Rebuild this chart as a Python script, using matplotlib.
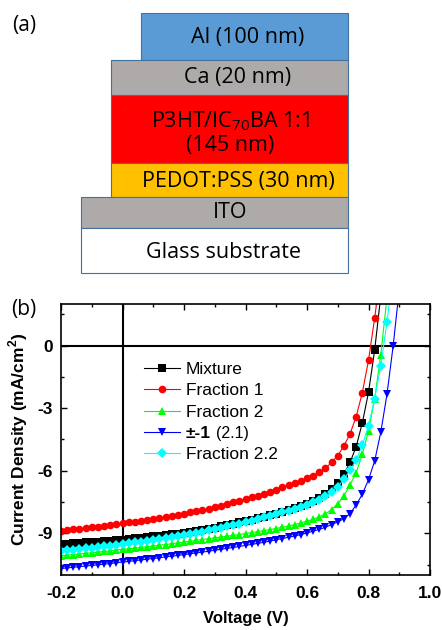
import numpy as np
import matplotlib.pyplot as plt
from matplotlib.patches import Rectangle
from matplotlib.ticker import MultipleLocator

plt.rcParams['mathtext.fontset'] = 'custom'
plt.rcParams['mathtext.rm'] = 'Open Sans'
plt.rcParams['mathtext.bf'] = 'Liberation Sans:bold'

# device stack (top to bottom)
layer_labels = ["Al (100 nm)", "Ca (20 nm)", "P3HT/IC$_{70}$BA 1:1\n(145 nm)",
                "PEDOT:PSS (30 nm)", "ITO", "Glass substrate"]
layer_colors = ["#5B9BD5", "#AEAAAA", "#FF0000", "#FFC000", "#AEAAAA", "#FFFFFF"]

# J-V curves, voltage in V, current density in mA/cm2
voltage = np.round(np.arange(-0.20, 0.905, 0.02), 2)

j_mixture = [-9.52, -9.50, -9.48, -9.46, -9.44, -9.42, -9.40, -9.37, -9.35, -9.32,
             -9.30, -9.27, -9.24, -9.21, -9.18, -9.15, -9.12, -9.08, -9.05, -9.01,
             -8.97, -8.93, -8.88, -8.83, -8.78, -8.73, -8.67, -8.61, -8.55, -8.48,
             -8.42, -8.35, -8.28, -8.21, -8.13, -8.05, -7.97, -7.88, -7.79, -7.69,
             -7.58, -7.46, -7.31, -7.12, -6.87, -6.58, -6.16, -5.60, -4.84, -3.70,
             -2.24, -0.22, 2.40]
j_frac1 = [-8.88, -8.85, -8.81, -8.78, -8.75, -8.71, -8.68, -8.64, -8.60, -8.56,
           -8.52, -8.48, -8.44, -8.40, -8.36, -8.32, -8.27, -8.23, -8.18, -8.12,
           -8.06, -8.00, -7.94, -7.88, -7.81, -7.74, -7.67, -7.60, -7.52, -7.44,
           -7.36, -7.28, -7.19, -7.10, -7.00, -6.90, -6.80, -6.69, -6.58, -6.47,
           -6.36, -6.24, -6.08, -5.88, -5.60, -5.28, -4.80, -4.23, -3.40, -2.25,
           -0.70, 1.32, 3.60]
j_frac2 = [-10.08, -10.05, -10.02, -9.99, -9.96, -9.93, -9.90, -9.87, -9.84, -9.80,
           -9.77, -9.74, -9.71, -9.68, -9.64, -9.61, -9.57, -9.54, -9.50, -9.46,
           -9.42, -9.38, -9.34, -9.30, -9.26, -9.22, -9.18, -9.14, -9.10, -9.06,
           -9.01, -8.97, -8.92, -8.87, -8.82, -8.77, -8.71, -8.65, -8.58, -8.50,
           -8.42, -8.33, -8.21, -8.06, -7.86, -7.58, -7.21, -6.67, -6.09, -5.21,
           -4.08, -2.55, -0.43, 2.30]
j_frac21 = [-10.69, -10.66, -10.63, -10.60, -10.57, -10.54, -10.51, -10.48, -10.45, -10.41,
            -10.38, -10.35, -10.31, -10.28, -10.24, -10.21, -10.17, -10.13, -10.10, -10.06,
            -10.02, -9.98, -9.94, -9.90, -9.86, -9.81, -9.77, -9.72, -9.68, -9.63,
            -9.58, -9.53, -9.48, -9.43, -9.37, -9.31, -9.25, -9.19, -9.13, -9.06,
            -8.98, -8.90, -8.81, -8.71, -8.58, -8.45, -8.30, -8.05, -7.64, -7.12,
            -6.43, -5.53, -4.15, -2.34, -0.03, 2.70]
j_frac22 = [-9.84, -9.81, -9.78, -9.75, -9.72, -9.69, -9.65, -9.62, -9.59, -9.55,
            -9.52, -9.48, -9.44, -9.40, -9.36, -9.31, -9.27, -9.22, -9.17, -9.12,
            -9.07, -9.02, -8.97, -8.92, -8.86, -8.80, -8.74, -8.67, -8.60, -8.53,
            -8.46, -8.39, -8.31, -8.24, -8.16, -8.08, -8.00, -7.91, -7.82, -7.72,
            -7.62, -7.51, -7.38, -7.23, -7.02, -6.76, -6.41, -5.98, -5.48, -4.77,
            -3.83, -2.55, -0.96, 1.12, 3.50]

series_labels = ["Mixture", "Fraction 1", "Fraction 2", "±-1", "Fraction 2.2"]
series_data = [j_mixture, j_frac1, j_frac2, j_frac21, j_frac22]
series_colors = ["#000000", "#FF0000", "#00FF00", "#0000FF", "#00FFFF"]
series_markers = ["s", "o", "^", "v", "D"]
x_ticks = [-0.2, 0.0, 0.2, 0.4, 0.6, 0.8, 1.0]
y_ticks = [0, -3, -6, -9]

W, H = 442, 630
fig = plt.figure(figsize=(W / 100, H / 100), dpi=100)

# ---- (a) device diagram, drawn in pixel coords
bg = fig.add_axes([0, 0, 1, 1])
bg.set_xlim(0, W)
bg.set_ylim(H, 0)
bg.axis('off')

# left x, top y, bottom y for each layer
boxes = [(141, 13, 60), (111, 60, 95), (111, 95, 163), (111, 163, 197), (81, 197, 228), (81, 228, 273)]
text_x = [248, 238, 230, 238, 230, 224]
text_y = [38, 78, 133, 181, 212, 253]
for (x0, y0, y1), c, lab, tx, ty in zip(boxes, layer_colors, layer_labels, text_x, text_y):
    bg.add_patch(Rectangle((x0, y0), 348 - x0, y1 - y0, fc=c, ec="#41719C", lw=0.8))
    bg.text(tx, ty, lab, ha='center', va='center', fontsize=15.5, family='Open Sans',
            color='black', linespacing=1.1)

bg.text(24, 25, "(a)", ha='center', va='center', fontsize=15, family='Open Sans')
bg.text(24, 309, "(b)", ha='center', va='center', fontsize=15, family='Open Sans')

# ---- (b) J-V plot
ax = fig.add_axes([61 / W, (H - 575) / H, (430 - 61) / W, (575 - 304) / H])
for lab, j, c, m in zip(series_labels, series_data, series_colors, series_markers):
    ax.plot(voltage[:len(j)], j, color=c, marker=m, markersize=5.5 if m != 'D' else 5,
            lw=0.8, label=lab, markeredgewidth=0)

ax.axhline(0, color='black', lw=1.5, zorder=1)
ax.axvline(0, color='black', lw=1.5, zorder=1)
ax.set_xlim(-0.2, 1.0)
ax.set_ylim(-11, 2)
ax.set_xticks(x_ticks)
ax.set_yticks(y_ticks)
ax.set_xticklabels([f"{v:.1f}" for v in x_ticks])
ax.set_yticklabels([str(v) for v in y_ticks])
ax.xaxis.set_minor_locator(MultipleLocator(0.1))
ax.yaxis.set_minor_locator(MultipleLocator(1.5))
ax.tick_params(which='both', direction='in', top=True, right=True, width=1)
ax.tick_params(which='major', length=4)
ax.tick_params(which='minor', length=2.5)
ax.tick_params(axis='x', pad=8)
ax.tick_params(axis='y', pad=6)
for lbl in ax.get_xticklabels() + ax.get_yticklabels():
    lbl.set_fontweight('bold')
    lbl.set_fontsize(12.5)
    lbl.set_family('Liberation Sans')
for s in ax.spines.values():
    s.set_linewidth(1.2)

ax.set_xlabel("Voltage (V)", fontsize=12, fontweight='bold', family='Liberation Sans', labelpad=7)
ax.set_ylabel("Current Density (mA/cm$^{\\mathbf{2}}$)", fontsize=12.5, fontweight='bold',
              family='Liberation Sans', labelpad=5)

leg = ax.legend(loc='upper left', bbox_to_anchor=(0.225, 0.787), frameon=False,
                prop={'family': 'Liberation Sans', 'size': 12.5}, handlelength=2.1,
                handletextpad=0.3, labelspacing=0.36, borderpad=0, borderaxespad=0)
t4 = leg.get_texts()[3]
t4.set_fontweight('bold')

# place the "(2.1)" suffix right after the bold label
fig.canvas.draw()
bb = t4.get_window_extent()
fig.text((bb.x1 + 5) / W, bb.y0 / H, "(2.1)", ha='left', va='bottom',
         fontsize=11.5, family='Liberation Sans')

fig.savefig("out.png", dpi=100)
